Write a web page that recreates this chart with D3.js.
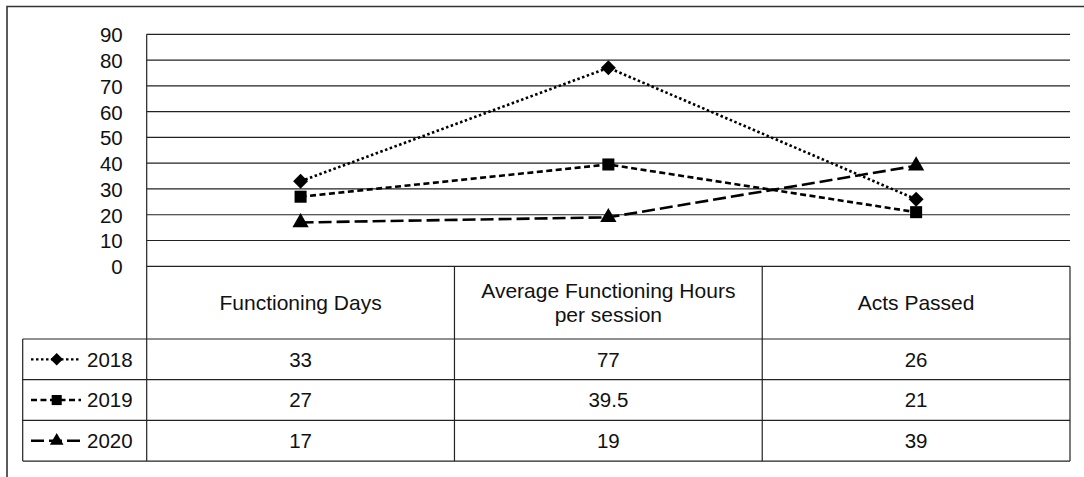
<!DOCTYPE html>
<html><head><meta charset="utf-8">
<script src="https://cdn.jsdelivr.net/npm/d3@7"></script>
<style>html,body{margin:0;padding:0;background:#fff;overflow:hidden}</style>
</head><body>
<svg id="c" width="1084" height="477"></svg>
<script>
const categories = ["Functioning Days", "Average Functioning Hours\nper session", "Acts Passed"];
const seriesNames = ["2018", "2019", "2020"];
const v2018 = [33, 77, 26];
const v2019 = [27, 39.5, 21];
const v2020 = [17, 19, 39];
const yTicks = [0, 10, 20, 30, 40, 50, 60, 70, 80, 90];

const series = [
  {name: seriesNames[0], values: v2018, dash: "2.5,2.5", symbol: d3.symbolSquare, rot: 45, size: 112, sw: 2.6},
  {name: seriesNames[1], values: v2019, dash: "6,3.5", symbol: d3.symbolSquare, rot: 0, size: 145, sw: 2.6},
  {name: seriesNames[2], values: v2020, dash: "13,5", symbol: d3.symbolTriangle, rot: 0, size: 115, sw: 2.6}
];

const svg = d3.select("#c");
const font = "'Liberation Sans', Arial, sans-serif";
const L = 146.7, R = 1070, T = 34.3, B = 266.3;
const hdrB = 339, rowH = 40.7, legL = 22.7;

// outer frame
svg.append("path").attr("d", `M7,480 V6.5 H1090`).attr("fill","none").attr("stroke","#333").attr("stroke-width",1.6);

const x = d3.scaleBand().domain(d3.range(categories.length)).range([L, R]);
const y = d3.scaleLinear().domain([0, 90]).range([B, T]);

// gridlines
svg.append("g").selectAll("line").data(yTicks).join("line")
  .attr("x1", L).attr("x2", R).attr("y1", d => y(d)).attr("y2", d => y(d))
  .attr("stroke", "#222").attr("stroke-width", 1.2);

// y axis labels
const yAxis = d3.axisLeft(y).tickValues(yTicks).tickSize(0).tickPadding(24);
const ga = svg.append("g").attr("transform", `translate(${L},0)`).call(yAxis);
ga.select(".domain").remove();
ga.selectAll("text").attr("font-family", font).attr("font-size", 20.5).attr("fill", "#111").attr("dy","0.36em");

// table lines
const tableBottom = hdrB + rowH * 3;
const tl = svg.append("g").attr("stroke", "#222").attr("stroke-width", 1.2);
tl.append("line").attr("x1", L).attr("x2", L).attr("y1", T).attr("y2", tableBottom);
tl.append("line").attr("x1", R).attr("x2", R).attr("y1", B).attr("y2", tableBottom);
[1, 2].forEach(i => tl.append("line").attr("x1", x(i)).attr("x2", x(i)).attr("y1", B).attr("y2", tableBottom));
tl.append("line").attr("x1", legL).attr("x2", legL).attr("y1", hdrB).attr("y2", tableBottom);
[0, 1, 2, 3].forEach(i => tl.append("line").attr("x1", legL).attr("x2", R).attr("y1", hdrB + rowH * i).attr("y2", hdrB + rowH * i));

// header labels
categories.forEach((c, i) => {
  const lines = c.split("\n");
  const cx = x(i) + x.bandwidth() / 2;
  const cy = (B + hdrB) / 2;
  const lh = 24;
  const t = svg.append("text").attr("font-family", font).attr("font-size", 21).attr("fill", "#111")
    .attr("text-anchor", "middle");
  lines.forEach((ln, k) => {
    t.append("tspan").attr("x", cx).attr("y", cy + (k - (lines.length - 1) / 2) * lh).attr("dy", "0.36em").text(ln);
  });
});

// series lines and markers
const lineGen = d3.line().x((d, i) => x(i) + x.bandwidth() / 2).y(d => y(d));
series.forEach((s, si) => {
  svg.append("path").attr("d", lineGen(s.values)).attr("fill", "none").attr("stroke", "#000")
    .attr("stroke-width", s.sw).attr("stroke-dasharray", s.dash);
  svg.append("g").selectAll("path").data(s.values).join("path")
    .attr("d", d3.symbol().type(s.symbol).size(s.size))
    .attr("transform", (d, i) => `translate(${x(i) + x.bandwidth() / 2},${y(d)}) rotate(${s.rot})`)
    .attr("fill", "#000");

  // table row
  const ry = hdrB + rowH * si + rowH / 2;
  svg.append("line").attr("x1", 31).attr("x2", 81).attr("y1", ry).attr("y2", ry)
    .attr("stroke", "#000").attr("stroke-width", 2.4).attr("stroke-dasharray", s.dash);
  svg.append("path").attr("d", d3.symbol().type(s.symbol).size(s.size * 0.7))
    .attr("transform", `translate(56.7,${ry}) rotate(${s.rot})`).attr("fill", "#000");
  svg.append("text").attr("x", 87).attr("y", ry).attr("dy", "0.36em")
    .attr("font-family", font).attr("font-size", 20.5).attr("fill", "#111").text(s.name);
  s.values.forEach((v, i) => {
    svg.append("text").attr("x", x(i) + x.bandwidth() / 2).attr("y", ry).attr("dy", "0.36em")
      .attr("text-anchor", "middle").attr("font-family", font).attr("font-size", 20.5).attr("fill", "#111").text(v);
  });
});
</script>
</body></html>
